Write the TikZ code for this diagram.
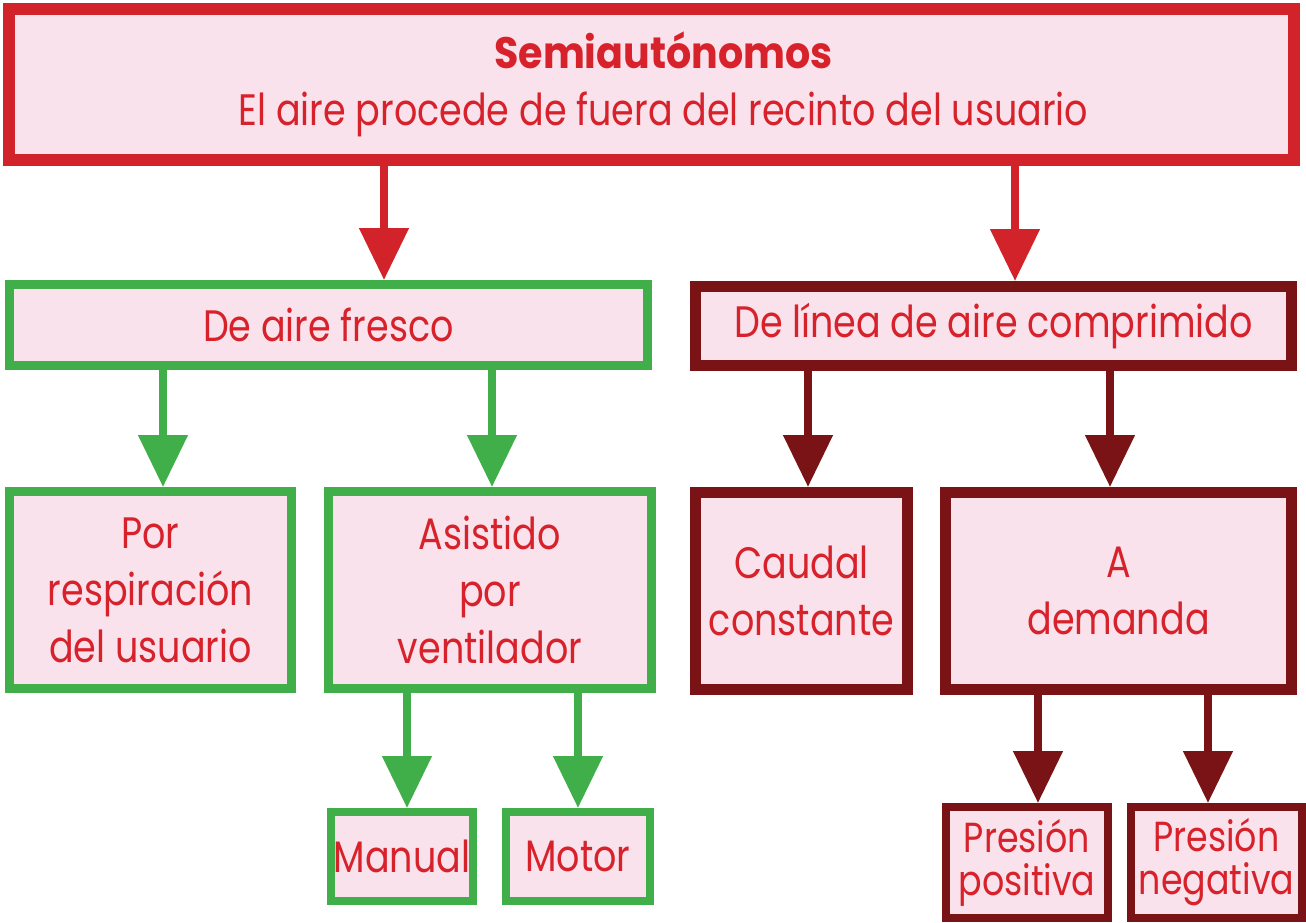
\documentclass[tikz,border=0pt]{standalone}
\usepackage{fontspec}
\setmainfont{Poppins}[FakeStretch=0.83, BoldFeatures={FakeStretch=0.9}]
\usetikzlibrary{arrows.meta}
\definecolor{cred}{HTML}{D2232A}
\definecolor{cgreen}{HTML}{40AE49}
\definecolor{cdark}{HTML}{7A1315}
\definecolor{cfill}{HTML}{F9E2EB}
\definecolor{ctext}{HTML}{D8222B}
\begin{document}
\begin{tikzpicture}[x=1pt,y=-1pt,
  box/.style={draw, fill=cfill, text=ctext, inner sep=0pt, align=center,
    font=\fontsize{44}{57}\selectfont},
  redbox/.style={box, draw=cred, line width=12pt},
  greenbox/.style={box, draw=cgreen, line width=9pt},
  darkbox/.style={box, draw=cdark, line width=11pt},
  smallgreen/.style={box, draw=cgreen, line width=8pt},
  smalldark/.style={box, draw=cdark, line width=8pt, font=\fontsize{42}{43}\selectfont},
  arr/.style={line width=8pt, -{Triangle[length=52pt,width=48pt]}},
  redarr/.style={arr, draw=cred, fill=cred},
  greenarr/.style={arr, draw=cgreen, fill=cgreen},
  darkarr/.style={arr, draw=cdark, fill=cdark}]
\useasboundingbox (0,0) rectangle (1306,923);
\fill[white] (0,0) rectangle (1306,923);

\node[redbox, minimum width=1285pt, minimum height=151pt] (top) at (651.5,84.5)
  {\hspace*{24pt}\raisebox{-6pt}{\bfseries Semiautónomos}\\\hspace*{24pt}\raisebox{-6pt}{El aire procede de fuera del recinto del usuario}};

\node[greenbox, minimum width=638pt, minimum height=81pt] (fresco) at (328.5,325) {De aire fresco};
\node[darkbox, minimum width=596pt, minimum height=79pt] (comp) at (993.5,326) {De línea de aire comprimido};

\node[greenbox, minimum width=282pt, minimum height=197pt] (resp) at (150.5,590) {Por\\respiración\\del usuario};
\node[greenbox, minimum width=323pt, minimum height=197pt] (asis) at (490,590) {Asistido\\por\\ventilador};
\node[darkbox, minimum width=212pt, minimum height=197pt] (caudal) at (801.5,591) {Caudal\\constante};
\node[darkbox, minimum width=346pt, minimum height=197pt] (dem) at (1118.5,591) {A\\demanda};

\node[smallgreen, minimum width=142pt, minimum height=89pt] (manual) at (402,856.5) {Manual};
\node[smallgreen, minimum width=144pt, minimum height=89pt] (motor) at (578,856.5) {Motor};
\node[smalldark, minimum width=162pt, minimum height=111pt] (pos) at (1027,862.5) {\raisebox{-12pt}{Presión}\\\raisebox{-12pt}{positiva}};
\node[smalldark, minimum width=171pt, minimum height=111pt] (neg) at (1216.5,862.5) {\raisebox{-12pt}{Presión}\\\raisebox{-12pt}{negativa}};

\draw[redarr] (top.south -| 384,0) -- (fresco.north -| 384,0);
\draw[redarr] (top.south -| 1015,0) -- (comp.north -| 1015,0);
\draw[greenarr] (fresco.south -| 163,0) -- (resp.north -| 163,0);
\draw[greenarr] (fresco.south -| 492,0) -- (asis.north -| 492,0);
\draw[darkarr] (comp.south -| 808,0) -- (caudal.north -| 808,0);
\draw[darkarr] (comp.south -| 1110,0) -- (dem.north -| 1110,0);
\draw[greenarr] (asis.south -| 407,0) -- (manual.north -| 407,0);
\draw[greenarr] (asis.south -| 578,0) -- (motor.north -| 578,0);
\draw[darkarr] (dem.south -| 1038,0) -- (pos.north -| 1038,0);
\draw[darkarr] (dem.south -| 1208,0) -- (neg.north -| 1208,0);
\end{tikzpicture}
\end{document}
